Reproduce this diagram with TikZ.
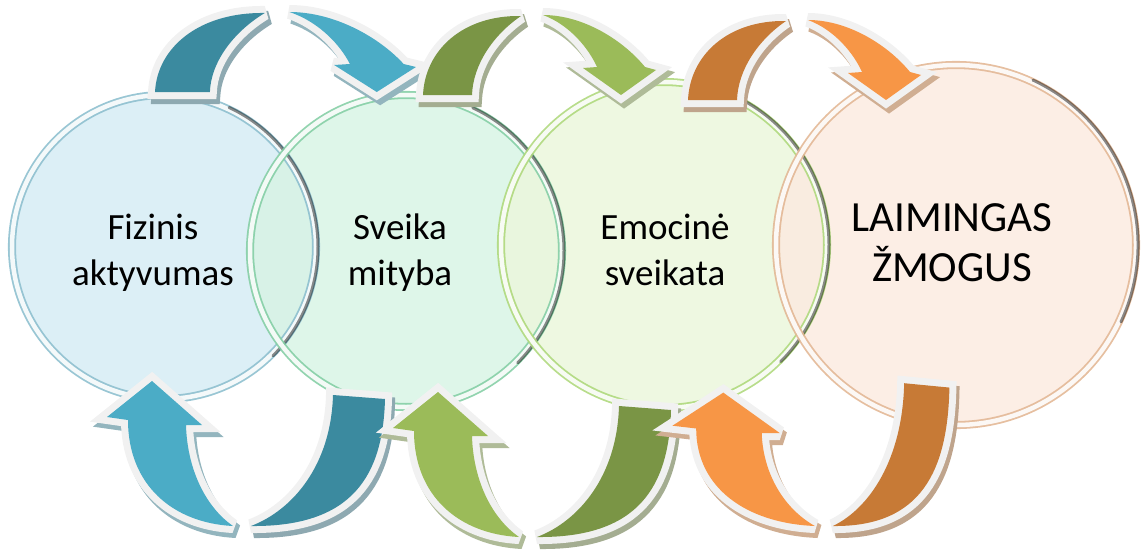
\documentclass[tikz,border=0pt]{standalone}
\usepackage{fontspec}
\setmainfont{Carlito}
\usepackage{tikz}

\definecolor{bluedark}{HTML}{3B8A9F}
\definecolor{bluelight}{HTML}{4BACC6}
\definecolor{greendark}{HTML}{7A9545}
\definecolor{greenlight}{HTML}{9BBB59}
\definecolor{orangedark}{HTML}{C77A36}
\definecolor{orangelight}{HTML}{F79646}
\definecolor{rimgray}{HTML}{F1F1F1}
\definecolor{fillblue}{HTML}{D6ECF4}
\definecolor{fillmint}{HTML}{D8F4E5}
\definecolor{filllime}{HTML}{EBF7DC}
\definecolor{fillpeach}{HTML}{FCEBE0}
\definecolor{rimblue}{HTML}{8EC0CF}
\definecolor{rimmint}{HTML}{86CFA6}
\definecolor{rimlime}{HTML}{B0D97E}
\definecolor{rimpeach}{HTML}{E3B896}

% the two halves of a curved arrow, drawn three times (shadow, rim, fill)
\tikzset{
  darkpart/.style={}, lightpart/.style={},
  dark shape/.style={}, light shape/.style={},
  over arc/.pic={
    \path[darkpart, dark shape] (0,0) .. controls (2,-45) and (40,-80) .. (98,-79)
      .. controls (70,-60) and (50,-30) .. (49,0) -- cycle;
    \path[lightpart, light shape] (174,-28) .. controls (166,-46) and (147,-70) .. (120,-80)
      .. controls (160,-80) and (200,-55) .. (222,-28)
      -- (233,-25) -- (198,0) -- (160,-27) -- cycle;
  },
  under arc/.pic={
    \path[darkpart, dark shape] (143,-127) .. controls (141,-51) and (111,1) .. (9,0)
      .. controls (51,-16) and (89,-61) .. (91,-131) -- cycle;
    \path[lightpart, light shape] (-56,-101) .. controls (-55,-61) and (-39,-21) .. (-9,0)
      .. controls (-69,-3) and (-114,-41) .. (-114,-106)
      -- (-135,-109) -- (-90,-145) -- (-40,-101) -- cycle;
  },
}

% #1 pic, #2 placement, #3 dark colour, #4 light colour
\newcommand{\looparrow}[4]{%
  \pic[#2, shift={(3,5)}, line join=miter, miter limit=3,
    darkpart/.style={fill=#3!50!gray!70!white, draw=#3!50!gray!70!white, line width=14},
    lightpart/.style={fill=#4!50!gray!70!white, draw=#4!50!gray!70!white, line width=14}] {#1};
  \pic[#2, line join=miter, miter limit=3,
    darkpart/.style={draw=rimgray, line width=14},
    lightpart/.style={draw=rimgray, line width=14}] {#1};
  \pic[#2, darkpart/.style={fill=#3}, lightpart/.style={fill=#4}] {#1};
}

\begin{document}
\begin{tikzpicture}[x=1pt, y=-1pt]
    \tikzstyle{bubble} = [circle, inner sep=0pt, fill opacity=0.85]
    \tikzstyle{rim} = [line width=1.8pt, double=white, double distance=4.5pt, opacity=0.9]
    \tikzstyle{glass} = [line width=3pt, black, opacity=0.45, line cap=round]
    \tikzstyle{caption} = [align=center, font=\fontsize{37}{46}\selectfont]

    \useasboundingbox (0,0) rectangle (1147,557);

    % circles
    \node[bubble, minimum size=304, fill=fillblue] (fizinis) at (164,247) {};
    \node[bubble, minimum size=312, fill=fillmint] (mityba) at (406,251) {};
    \node[bubble, minimum size=326, fill=filllime] (emocine) at (664,245) {};
    \node[bubble, minimum size=360, fill=fillpeach] (laimingas) at (956,245) {};

    % glassy rims, on top of all fills
    \draw[rim, draw=rimblue] (fizinis.center) circle[radius=152];
    \draw[glass] (fizinis.center) ++(-65:154) arc[start angle=-65, end angle=45, radius=154];
    \draw[rim, draw=rimmint] (mityba.center) circle[radius=156];
    \draw[glass] (mityba.center) ++(-65:158) arc[start angle=-65, end angle=45, radius=158];
    \draw[rim, draw=rimlime] (emocine.center) circle[radius=163];
    \draw[glass] (emocine.center) ++(-65:165) arc[start angle=-65, end angle=45, radius=165];
    \draw[rim, draw=rimpeach] (laimingas.center) circle[radius=180];
    \draw[glass] (laimingas.center) ++(-65:182) arc[start angle=-65, end angle=25, radius=182];

    % arrows over and under
    \looparrow{over arc}{shift={(155,92)}, xscale=1.12}{bluedark}{bluelight}
    \looparrow{under arc}{shift={(242,526)}}{bluedark}{bluelight}
    \looparrow{over arc}{shift={(423,95)}}{greendark}{greenlight}
    \looparrow{under arc}{shift={(528,537)}}{greendark}{greenlight}
    \looparrow{over arc}{shift={(688,100)}}{orangedark}{orangelight}
    \looparrow{under arc}{shift={(825,526)}, dark shape/.style={xscale=0.87, yscale=1.09},
      light shape/.style={xscale=1.13, yscale=0.92}}{orangedark}{orangelight}

    % texts
    \node[caption] (fizinis text) at (153,253) {Fizinis\\aktyvumas};
    \node[caption] (mityba text) at (400,253) {Sveika\\mityba};
    \node[caption] (emocine text) at (665,250) {Emocinė\\sveikata};
    \node[caption, font=\fontsize{43}{50}\selectfont] (laimingas text) at (952,243) {LAIMINGAS\\ŽMOGUS};
\end{tikzpicture}
\end{document}
